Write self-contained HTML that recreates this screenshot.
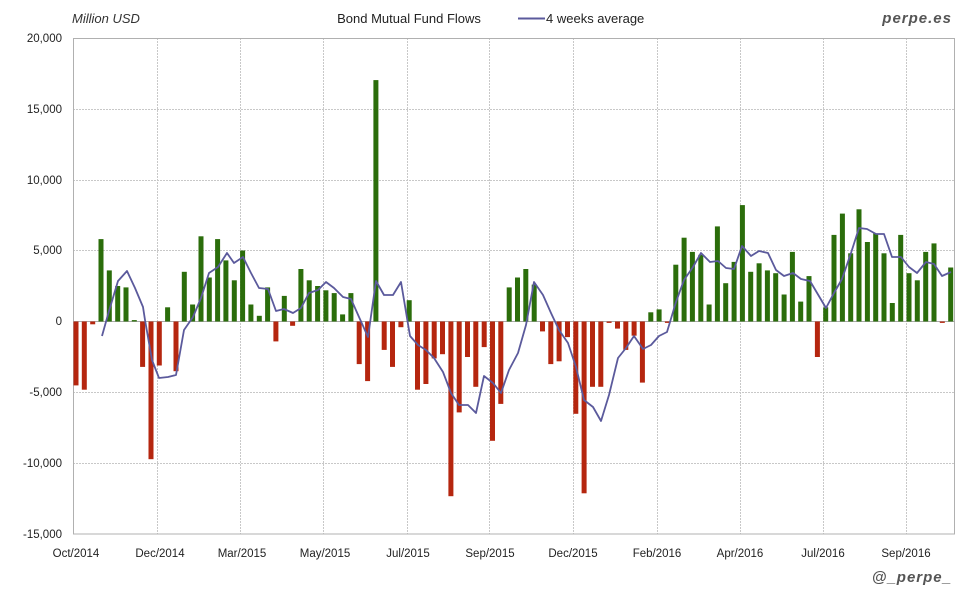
<!DOCTYPE html>
<html><head><meta charset="utf-8"><style>
html,body{margin:0;padding:0;background:#fff;}
svg{display:block;font-family:"Liberation Sans",sans-serif;}
</style></head><body>
<svg width="980" height="600" viewBox="0 0 980 600" xmlns="http://www.w3.org/2000/svg">
<rect width="980" height="600" fill="#fff"/>
<g stroke="#c8c8c8" stroke-width="1" stroke-dasharray="2,1">
<line x1="73" y1="109.5" x2="955" y2="109.5"/><line x1="73" y1="180.5" x2="955" y2="180.5"/><line x1="73" y1="250.5" x2="955" y2="250.5"/><line x1="73" y1="392.5" x2="955" y2="392.5"/><line x1="73" y1="463.5" x2="955" y2="463.5"/>
<line x1="157.5" y1="38" x2="157.5" y2="534"/><line x1="240.5" y1="38" x2="240.5" y2="534"/><line x1="323.5" y1="38" x2="323.5" y2="534"/><line x1="407.5" y1="38" x2="407.5" y2="534"/><line x1="489.5" y1="38" x2="489.5" y2="534"/><line x1="573.5" y1="38" x2="573.5" y2="534"/><line x1="657.5" y1="38" x2="657.5" y2="534"/><line x1="740.5" y1="38" x2="740.5" y2="534"/><line x1="823.5" y1="38" x2="823.5" y2="534"/><line x1="906.5" y1="38" x2="906.5" y2="534"/>
</g>
<rect x="73.5" y="38.5" width="881" height="495.5" fill="none" stroke="#b0b0b0"/>
<line x1="73" y1="321.5" x2="955" y2="321.5" stroke="#aaa"/>
<g fill="#2b6d0b">
<rect x="98.5" y="239.1" width="5" height="82.4"/><rect x="106.8" y="270.4" width="5" height="51.1"/><rect x="115.2" y="286" width="5" height="35.5"/><rect x="123.5" y="287.4" width="5" height="34.1"/><rect x="131.8" y="320.1" width="5" height="1.4"/><rect x="165.1" y="307.3" width="5" height="14.2"/><rect x="181.8" y="271.8" width="5" height="49.7"/><rect x="190.1" y="304.5" width="5" height="17"/><rect x="198.5" y="236.3" width="5" height="85.2"/><rect x="206.8" y="277.5" width="5" height="44"/><rect x="215.1" y="239.1" width="5" height="82.4"/><rect x="223.4" y="260.4" width="5" height="61.1"/><rect x="231.8" y="280.3" width="5" height="41.2"/><rect x="240.1" y="250.5" width="5" height="71"/><rect x="248.4" y="304.5" width="5" height="17"/><rect x="256.8" y="315.8" width="5" height="5.7"/><rect x="265.1" y="287.4" width="5" height="34.1"/><rect x="281.8" y="295.9" width="5" height="25.6"/><rect x="298.4" y="269" width="5" height="52.5"/><rect x="306.7" y="280.3" width="5" height="41.2"/><rect x="315.1" y="286" width="5" height="35.5"/><rect x="323.4" y="290.3" width="5" height="31.2"/><rect x="331.7" y="293.1" width="5" height="28.4"/><rect x="340.1" y="314.4" width="5" height="7.1"/><rect x="348.4" y="293.1" width="5" height="28.4"/><rect x="373.4" y="80.1" width="5" height="241.4"/><rect x="406.7" y="300.2" width="5" height="21.3"/><rect x="506.7" y="287.4" width="5" height="34.1"/><rect x="515" y="277.5" width="5" height="44"/><rect x="523.3" y="269" width="5" height="52.5"/><rect x="531.7" y="284.6" width="5" height="36.9"/><rect x="648.3" y="312.3" width="5" height="9.2"/><rect x="656.6" y="309.4" width="5" height="12.1"/><rect x="673.3" y="264.7" width="5" height="56.8"/><rect x="681.6" y="237.7" width="5" height="83.8"/><rect x="689.9" y="251.9" width="5" height="69.6"/><rect x="698.3" y="254.8" width="5" height="66.7"/><rect x="706.6" y="304.5" width="5" height="17"/><rect x="714.9" y="226.4" width="5" height="95.1"/><rect x="723.2" y="283.2" width="5" height="38.3"/><rect x="731.6" y="261.9" width="5" height="59.6"/><rect x="739.9" y="205.1" width="5" height="116.4"/><rect x="748.2" y="271.8" width="5" height="49.7"/><rect x="756.6" y="263.3" width="5" height="58.2"/><rect x="764.9" y="270.4" width="5" height="51.1"/><rect x="773.2" y="273.2" width="5" height="48.3"/><rect x="781.6" y="294.5" width="5" height="27"/><rect x="789.9" y="251.9" width="5" height="69.6"/><rect x="798.2" y="301.6" width="5" height="19.9"/><rect x="806.5" y="276.1" width="5" height="45.4"/><rect x="823.2" y="307.3" width="5" height="14.2"/><rect x="831.5" y="234.9" width="5" height="86.6"/><rect x="839.9" y="213.6" width="5" height="107.9"/><rect x="848.2" y="253.3" width="5" height="68.2"/><rect x="856.5" y="209.3" width="5" height="112.2"/><rect x="864.9" y="242" width="5" height="79.5"/><rect x="873.2" y="233.5" width="5" height="88"/><rect x="881.5" y="253.3" width="5" height="68.2"/><rect x="889.8" y="303" width="5" height="18.5"/><rect x="898.2" y="234.9" width="5" height="86.6"/><rect x="906.5" y="273.2" width="5" height="48.3"/><rect x="914.8" y="280.3" width="5" height="41.2"/><rect x="923.2" y="251.9" width="5" height="69.6"/><rect x="931.5" y="243.4" width="5" height="78.1"/><rect x="948.2" y="267.5" width="5" height="54"/>
</g>
<g fill="#b5260f">
<rect x="73.5" y="321.5" width="5" height="63.9"/><rect x="81.8" y="321.5" width="5" height="68.2"/><rect x="90.2" y="321.5" width="5" height="2.8"/><rect x="140.1" y="321.5" width="5" height="45.4"/><rect x="148.5" y="321.5" width="5" height="137.7"/><rect x="156.8" y="321.5" width="5" height="44"/><rect x="173.5" y="321.5" width="5" height="49.7"/><rect x="273.4" y="321.5" width="5" height="19.9"/><rect x="290.1" y="321.5" width="5" height="4.3"/><rect x="356.7" y="321.5" width="5" height="42.6"/><rect x="365.1" y="321.5" width="5" height="59.6"/><rect x="381.7" y="321.5" width="5" height="28.4"/><rect x="390" y="321.5" width="5" height="45.4"/><rect x="398.4" y="321.5" width="5" height="5.7"/><rect x="415" y="321.5" width="5" height="68.2"/><rect x="423.4" y="321.5" width="5" height="62.5"/><rect x="431.7" y="321.5" width="5" height="36.9"/><rect x="440" y="321.5" width="5" height="32.7"/><rect x="448.4" y="321.5" width="5" height="174.7"/><rect x="456.7" y="321.5" width="5" height="90.9"/><rect x="465" y="321.5" width="5" height="35.5"/><rect x="473.3" y="321.5" width="5" height="65.3"/><rect x="481.7" y="321.5" width="5" height="25.6"/><rect x="490" y="321.5" width="5" height="119.3"/><rect x="498.3" y="321.5" width="5" height="82.4"/><rect x="540" y="321.5" width="5" height="9.9"/><rect x="548.3" y="321.5" width="5" height="42.6"/><rect x="556.6" y="321.5" width="5" height="39.8"/><rect x="565" y="321.5" width="5" height="15.6"/><rect x="573.3" y="321.5" width="5" height="92.3"/><rect x="581.6" y="321.5" width="5" height="171.8"/><rect x="590" y="321.5" width="5" height="65.3"/><rect x="598.3" y="321.5" width="5" height="65.3"/><rect x="606.6" y="321.5" width="5" height="1.4"/><rect x="615" y="321.5" width="5" height="7.1"/><rect x="623.3" y="321.5" width="5" height="28.4"/><rect x="631.6" y="321.5" width="5" height="14.2"/><rect x="639.9" y="321.5" width="5" height="61.1"/><rect x="664.9" y="321.5" width="5" height="1.4"/><rect x="814.9" y="321.5" width="5" height="35.5"/><rect x="939.8" y="321.5" width="5" height="1.4"/>
</g>
<polyline fill="none" stroke="#5b5a9c" stroke-width="1.8" stroke-linejoin="round" points="102,336 109,311 118,281 127,271 135,288 143,307 145,320 152,360 159,378 168,377 176,375 184,330 193,317 201,298 209,273 218,267 227,253 234,263 243,257 251,273 259,288 268,289 276,311 284,309 293,313 301,308 309,293 318,290 326,282 334,288 343,297 351,299 359,317 368,337 376,281 384,295 393,295 401,282 410,336 418,345 426,350 434,358 443,372 451,393 459,405 468,405 476,413 484,376 493,383 501,393 509,370 518,353 526,325 534,282 543,295 551,313 559,330 568,343 576,367 584,400 593,407 601,421 609,395 618,358 626,348 634,336 643,349 651,345 659,336 667,332 676,302 684,280 693,267 701,253 710,262 718,261 726,268 734,269 742,246 751,256 759,251 768,253 776,270 784,276 793,273 801,279 810,281 826,308 834,293 842,279 851,253 859,228 867,229 876,234 884,234 892,257 901,257 909,267 917,273 926,262 934,264 942,276 951,272"/>
<g font-size="11.5" fill="#222" text-anchor="end">
<text x="62" y="42">20,000</text><text x="62" y="113">15,000</text><text x="62" y="184">10,000</text><text x="62" y="254">5,000</text><text x="62" y="325">0</text><text x="62" y="396">-5,000</text><text x="62" y="467">-10,000</text><text x="62" y="538">-15,000</text>
</g>
<g font-size="11.5" fill="#222" text-anchor="middle">
<text x="76" y="557">Oct/2014</text><text x="160" y="557">Dec/2014</text><text x="242" y="557">Mar/2015</text><text x="325" y="557">May/2015</text><text x="408" y="557">Jul/2015</text><text x="490" y="557">Sep/2015</text><text x="573" y="557">Dec/2015</text><text x="657" y="557">Feb/2016</text><text x="740" y="557">Apr/2016</text><text x="823" y="557">Jul/2016</text><text x="906" y="557">Sep/2016</text>
</g>
<text x="72" y="23" font-size="13" font-style="italic" fill="#333">Million USD</text>
<text x="409" y="23" font-size="13" fill="#222" text-anchor="middle">Bond Mutual Fund Flows</text>
<line x1="518" y1="18.5" x2="545" y2="18.5" stroke="#5b5a9c" stroke-width="2"/>
<text x="546" y="23" font-size="13" fill="#222">4 weeks average</text>
<text x="952" y="23" font-size="15" font-weight="bold" font-style="italic" fill="#555" text-anchor="end" letter-spacing="1">perpe.es</text>
<text x="952" y="582" font-size="15" font-weight="bold" font-style="italic" fill="#555" text-anchor="end" letter-spacing="1">@_perpe_</text>
</svg>
</body></html>
